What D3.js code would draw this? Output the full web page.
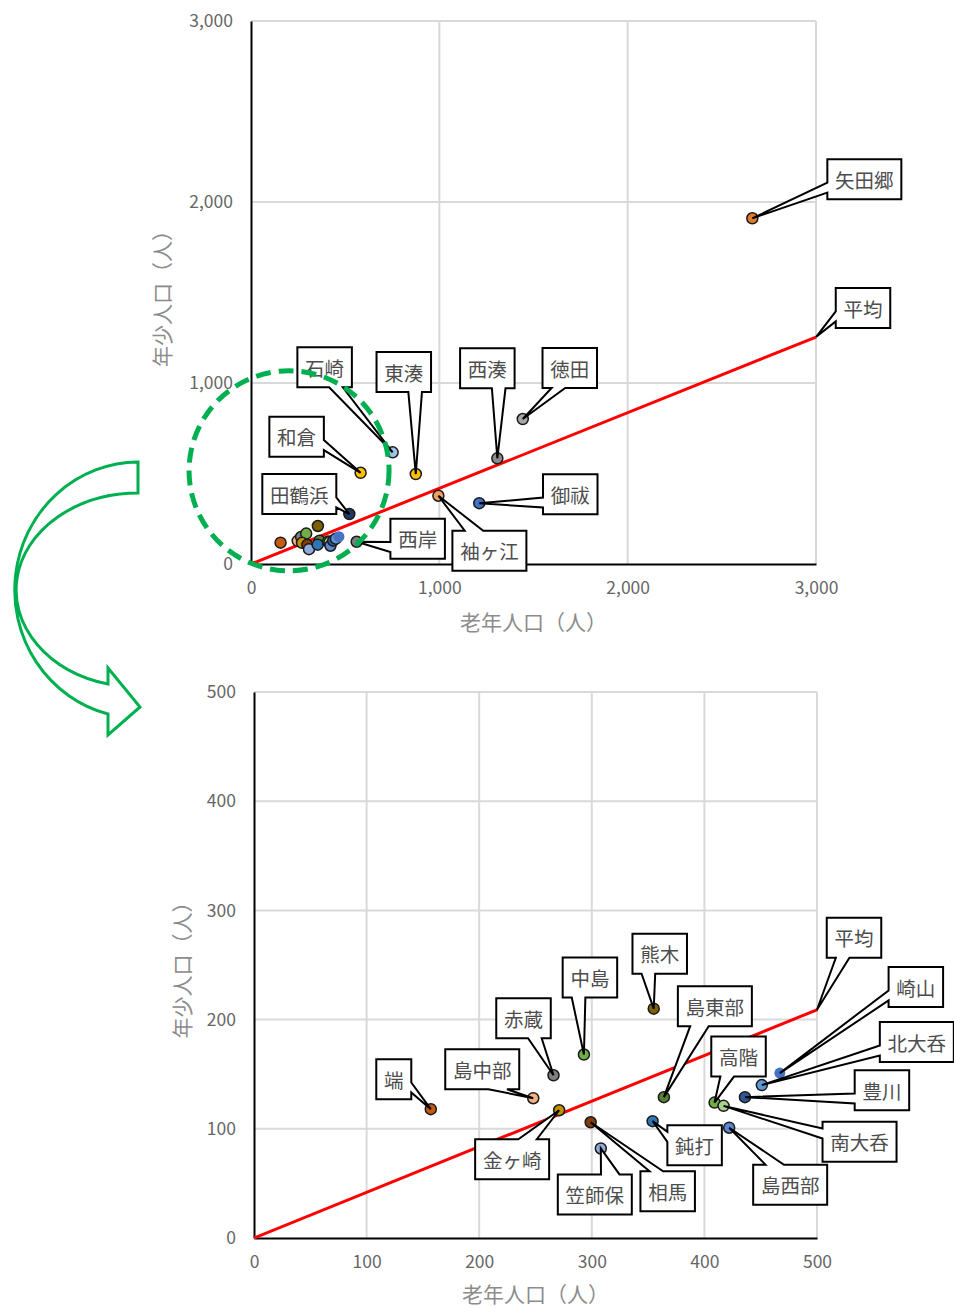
<!DOCTYPE html>
<html>
<head>
<meta charset="utf-8">
<script src="https://cdn.jsdelivr.net/npm/d3@7"></script>
<style>
  body { margin: 0; background: #fff; }
  svg { display: block; }
</style>
</head>
<body>
<svg id="chart" width="954" height="1308"></svg>
<script>
// 地区別の老年人口・年少人口（人）
const districts = ["矢田郷","徳田","西湊","御祓","袖ヶ江","東湊","石崎","和倉","田鶴浜","西岸",
  "端","島中部","赤蔵","中島","金ヶ崎","熊木","島東部","相馬","笠師保","鈍打",
  "高階","南大呑","島西部","豊川","北大呑","崎山"];
const elderly = [2662,1443,1308,1212,995,875,752,582,522,561,
  157,248,266,293,271,355,364,299,308,354,
  409,417,422,436,451,467];
const youth = [1910,801,584,336,377,497,617,504,276,123,
  118,128,149,168,117,210,129,106,82,107,
  124,121,101,129,140,151];

// 平均（全体の年少／老年比）
const averageElderly = [0, 3000];
const averageYouth = [0, 1254];

const overviewTicks = [0, 1000, 2000, 3000];
const detailTicks = [0, 100, 200, 300, 400, 500];
const xTitle = "老年人口（人）";
const yTitle = "年少人口（人）";
const averageName = "平均";

// marker colours, one per district
const dotFill = ["#e07b2a","#a5a5a5","#8c8c8c","#4472c4","#f0a060","#ffc000","#9dc3e6","#ffc000","#203864","#7f7f7f",
  "#c55a11","#f4b183","#7f7f7f","#70ad47","#bf9000","#7f6000","#548235","#843c0c","#8faadc","#2e75b6",
  "#70ad47","#a9d18e","#5b87d0","#2f5597","#5b9bd5","#4472c4"];
const strokeless = new Set(["崎山"]);

// callout box centre offsets from the anchored point, in px
const overviewCallouts = {
  "矢田郷":[112,-39], "平均":[47,-29], "徳田":[47,-51], "西湊":[-10,-90], "東湊":[-12,-102],
  "石崎":[-68,-85], "和倉":[-64,-36], "田鶴浜":[-50,-20], "西岸":[61,-3], "袖ヶ江":[51,55], "御祓":[91,-9]
};
const detailCallouts = {
  "平均":[37,-72], "熊木":[6,-55], "中島":[6,-77], "赤蔵":[-30,-57], "島中部":[-51,-29], "端":[-37,-30],
  "金ヶ崎":[-47,49], "笠師保":[-6,46], "相馬":[77,69], "鈍打":[42,24], "島西部":[61,57], "南大呑":[136,36],
  "高階":[24,-46], "島東部":[51,-91], "崎山":[136,-86], "北大呑":[155,-43], "豊川":[137,-7]
};

const svg = d3.select("#chart");
const FONT = "'Noto Sans CJK JP', 'Noto Sans', sans-serif";

const points = districts.map((name, i) => ({ name, x: elderly[i], y: youth[i], fill: dotFill[i] }));

// rectangle with a wedge pointing at (tx, ty)
function calloutPath(bx, by, w, h, tx, ty) {
  const cx = bx + w / 2, cy = by + h / 2;
  const dx = tx - cx, dy = ty - cy;
  let pts;
  if (Math.abs(dx) / w <= Math.abs(dy) / h) {
    const x1 = bx + w * (dx > 0 ? 7 : 2) / 12, x2 = bx + w * (dx > 0 ? 10 : 5) / 12;
    if (dy < 0) pts = [[bx,by],[x1,by],[tx,ty],[x2,by],[bx+w,by],[bx+w,by+h],[bx,by+h]];
    else pts = [[bx,by],[bx+w,by],[bx+w,by+h],[x2,by+h],[tx,ty],[x1,by+h],[bx,by+h]];
  } else {
    const y1 = by + h * (dy > 0 ? 7 : 2) / 12, y2 = by + h * (dy > 0 ? 10 : 5) / 12;
    if (dx < 0) pts = [[bx,by],[bx+w,by],[bx+w,by+h],[bx,by+h],[bx,y2],[tx,ty],[bx,y1]];
    else pts = [[bx,by],[bx+w,by],[bx+w,y1],[tx,ty],[bx+w,y2],[bx+w,by+h],[bx,by+h]];
  }
  return "M" + pts.map(p => p.join(",")).join("L") + "Z";
}

function drawCallout(g, text, ax, ay, off) {
  const n = Array.from(text).length;
  const w = 19.5 * n + 15.5, h = 40;
  const bx = ax + off[0] - w / 2, by = ay + off[1] - h / 2;
  g.append("path")
    .attr("d", calloutPath(bx, by, w, h, ax, ay))
    .attr("fill", "#fff").attr("stroke", "#000").attr("stroke-width", 2)
    .attr("stroke-linejoin", "miter");
  g.append("text")
    .attr("x", bx + w / 2).attr("y", by + h / 2)
    .attr("text-anchor", "middle").attr("dominant-baseline", "central")
    .attr("font-family", FONT).attr("font-size", 19.5).attr("fill", "#4d4d4d")
    .text(text);
}

function drawPanel(o) {
  const x = d3.scaleLinear([0, o.max], [o.left, o.right]);
  const y = d3.scaleLinear([0, o.max], [o.bottom, o.top]);
  const g = svg.append("g");

  // gridlines
  g.append("g").selectAll("line.v").data(o.ticks.filter(t => t > 0)).join("line")
    .attr("x1", d => x(d)).attr("x2", d => x(d)).attr("y1", o.top).attr("y2", o.bottom)
    .attr("stroke", "#d9d9d9").attr("stroke-width", 2);
  g.append("g").selectAll("line.h").data(o.ticks.filter(t => t > 0)).join("line")
    .attr("x1", o.left).attr("x2", o.right).attr("y1", d => y(d)).attr("y2", d => y(d))
    .attr("stroke", "#d9d9d9").attr("stroke-width", 2);

  // axes
  const xa = g.append("g").attr("transform", `translate(0,${o.bottom})`)
    .call(d3.axisBottom(x).tickValues(o.ticks).tickFormat(o.fmt).tickSize(0).tickPadding(18));
  const ya = g.append("g").attr("transform", `translate(${o.left},0)`)
    .call(d3.axisLeft(y).tickValues(o.ticks).tickFormat(o.fmt).tickSize(0).tickPadding(18));
  [xa, ya].forEach(a => {
    a.select(".domain").attr("stroke", "#000").attr("stroke-width", 2);
    a.selectAll("text").attr("font-family", FONT).attr("font-size", 17.5).attr("fill", "#666");
  });

  // axis titles
  g.append("text").attr("x", (o.left + o.right) / 2).attr("y", o.xTitleY)
    .attr("text-anchor", "middle").attr("dominant-baseline", "central")
    .attr("font-family", FONT).attr("font-size", 21).attr("fill", "#8c8c8c").text(xTitle);
  g.append("text").attr("transform", `translate(${o.yTitleX},${(o.top + o.bottom) / 2 + o.yTitleShift}) rotate(-90)`)
    .attr("text-anchor", "middle").attr("dominant-baseline", "central")
    .attr("font-family", FONT).attr("font-size", 21).attr("fill", "#8c8c8c").text(yTitle);

  // clip to the plot area
  const clipId = "clip" + o.max;
  svg.append("clipPath").attr("id", clipId).append("rect")
    .attr("x", o.left - 1).attr("y", o.top - 1).attr("width", o.right - o.left + 2).attr("height", o.bottom - o.top + 2);

  // average line
  const avg = averageElderly.map((v, i) => [v, averageYouth[i]]);
  g.append("path").attr("clip-path", `url(#${clipId})`)
    .attr("d", d3.line().x(d => x(d[0])).y(d => y(d[1]))(avg))
    .attr("fill", "none").attr("stroke", "#ff0000").attr("stroke-width", 3);

  // district markers
  const visible = points.filter(p => p.x <= o.max && p.y <= o.max);
  g.append("g").selectAll("circle").data(visible).join("circle")
    .attr("cx", d => x(d.x)).attr("cy", d => y(d.y)).attr("r", 5.5)
    .attr("fill", d => d.fill)
    .attr("stroke", d => strokeless.has(d.name) ? "none" : "#1a1a1a")
    .attr("stroke-width", 1.5);

  // callouts
  const lg = g.append("g");
  visible.forEach(p => {
    if (o.callouts[p.name]) drawCallout(lg, p.name, x(p.x), y(p.y), o.callouts[p.name]);
  });
  const [ex, ey] = avg[avg.length - 1];
  const t = Math.min(1, o.max / ex, o.max / ey);
  drawCallout(lg, averageName, x(ex * t), y(ey * t), o.callouts[averageName]);

  return { x, y };
}

const fmtComma = d3.format(",");
const overview = drawPanel({ left: 251, right: 816, top: 21, bottom: 564, max: 3000, ticks: overviewTicks,
  fmt: fmtComma, callouts: overviewCallouts, xTitleY: 621, yTitleX: 161, yTitleShift: 1 });
drawPanel({ left: 254, right: 817, top: 692, bottom: 1238, max: 500, ticks: detailTicks,
  fmt: d3.format("d"), callouts: detailCallouts, xTitleY: 1293, yTitleX: 181, yTitleShift: 0 });

// dashed ring around the low-population cluster
svg.append("circle")
  .attr("cx", overview.x(202)).attr("cy", overview.y(515)).attr("r", 100)
  .attr("fill", "none").attr("stroke", "#00b050").attr("stroke-width", 5)
  .attr("stroke-dasharray", "15 8");

// curved arrow leading to the enlarged view
svg.append("path")
  .attr("d", "M138,462 A124,128 0 0 0 108,714 L108,735 L140,707 L108,668 L108,684 A122,97 0 0 1 138,493 Z")
  .attr("fill", "none").attr("stroke", "#00b050").attr("stroke-width", 3).attr("stroke-linejoin", "miter");
</script>
</body>
</html>
